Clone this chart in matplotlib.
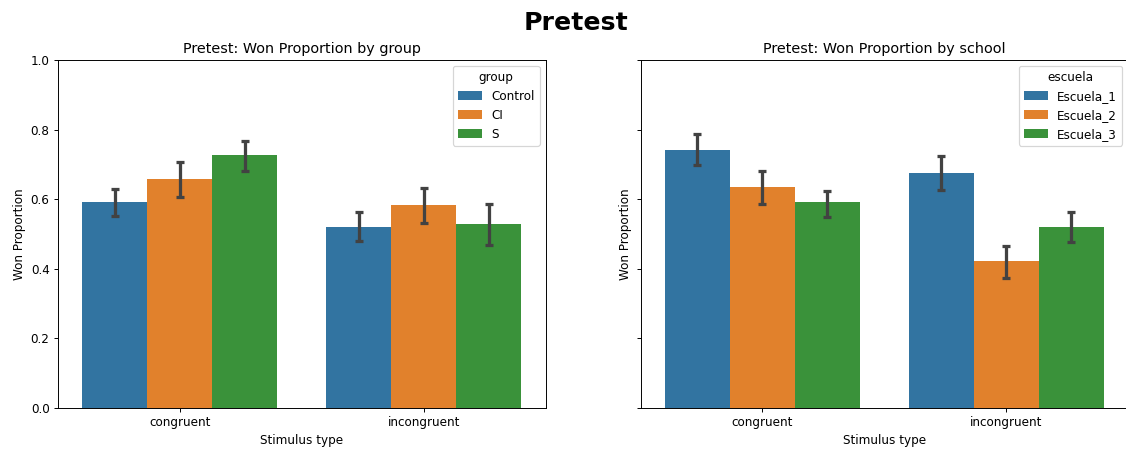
import numpy as np
import matplotlib
matplotlib.use("Agg")
import matplotlib.pyplot as plt
from matplotlib.patches import Patch

stimulus = ["congruent", "incongruent"]

groups = ["Control", "CI", "S"]
group_mean = np.array([[0.591, 0.657, 0.727],
                       [0.521, 0.584, 0.529]])
group_lo = np.array([[0.553, 0.607, 0.682],
                     [0.480, 0.532, 0.468]])
group_hi = np.array([[0.628, 0.708, 0.768],
                     [0.562, 0.632, 0.587]])

schools = ["Escuela_1", "Escuela_2", "Escuela_3"]
school_mean = np.array([[0.742, 0.636, 0.591],
                        [0.676, 0.422, 0.521]])
school_lo = np.array([[0.697, 0.587, 0.548],
                      [0.627, 0.373, 0.477]])
school_hi = np.array([[0.786, 0.680, 0.625],
                      [0.724, 0.466, 0.562]])

colors = ["#3274a1", "#e1812c", "#3a923a"]
err_color = "#424242"


def hue_bars(ax, mean, lo, hi, hues, title, legend_title):
    n = len(hues)
    width = 0.8 / n
    x = np.arange(len(stimulus))
    for j in range(n):
        pos = x - 0.4 + width * (j + 0.5)
        ax.bar(pos, mean[:, j], width=width, color=colors[j])
        ax.errorbar(pos, mean[:, j],
                    yerr=[mean[:, j] - lo[:, j], hi[:, j] - mean[:, j]],
                    fmt="none", ecolor=err_color, elinewidth=2.7,
                    capsize=3.6, capthick=2.7)
    ax.set_xticks(x)
    ax.set_xticklabels(stimulus)
    ax.set_xlim(-0.5, len(stimulus) - 0.5)
    ax.set_ylim(0, 1.0)
    ax.set_title(title, fontsize=12)
    ax.set_xlabel("Stimulus type")
    ax.set_ylabel("Won Proportion")
    handles = [Patch(facecolor=colors[j], label=hues[j]) for j in range(n)]
    ax.legend(handles=handles, title=legend_title, loc="upper right")


# 86.4 dpi -> everything drawn 1.2x the usual 72 dpi size
DPI = 86.4
W, H = 1126, 449
fig = plt.figure(figsize=(W / DPI, H / DPI), dpi=DPI)
ax1 = fig.add_axes([58 / W, 41 / H, 487.5 / W, 348 / H])
ax2 = fig.add_axes([640.5 / W, 41 / H, 487.5 / W, 348 / H], sharey=ax1)

hue_bars(ax1, group_mean, group_lo, group_hi, groups,
         "Pretest: Won Proportion by group", "group")
hue_bars(ax2, school_mean, school_lo, school_hi, schools,
         "Pretest: Won Proportion by school", "escuela")
plt.setp(ax2.get_yticklabels(), visible=False)
ax1.set_yticks(np.arange(0, 1.01, 0.2))

fig.suptitle("Pretest", fontsize=21, fontweight="bold", x=576.5 / W, y=0.975)

fig.savefig("out.png", dpi=DPI)
